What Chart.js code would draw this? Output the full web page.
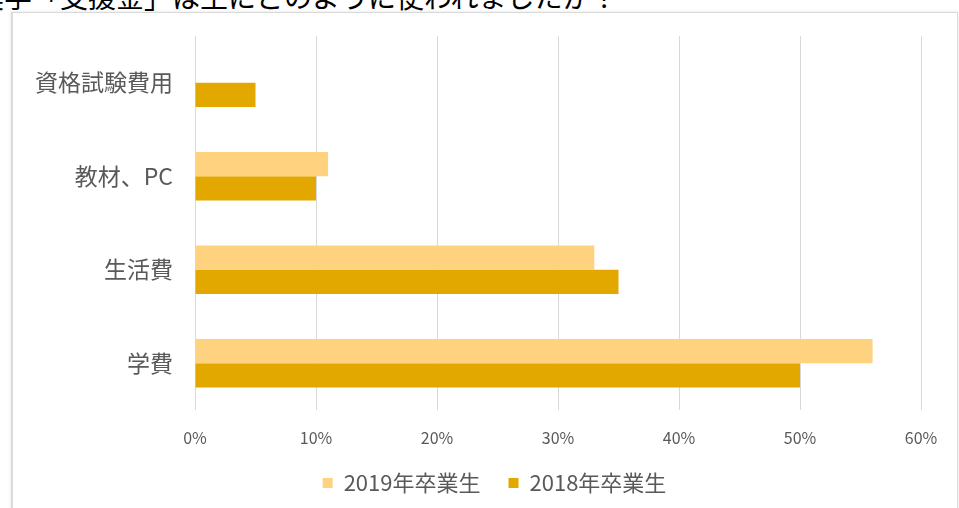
<!DOCTYPE html>
<html>
<head>
<meta charset="utf-8">
<script src="https://cdn.jsdelivr.net/npm/chart.js@4/dist/chart.umd.min.js"></script>
<style>
  html, body { margin: 0; padding: 0; background: #fff; }
  body { width: 959px; height: 508px; position: relative; overflow: hidden; font-family: "Noto Sans CJK JP", sans-serif; }
  #title { position: absolute; left: -24px; top: -18px; font-size: 28px; line-height: 28px; color: #000; white-space: nowrap; }
  #frame { position: absolute; left: 11px; top: 12px; width: 944px; height: 510px; border: 1px solid #d9d9d9; border-left: 2px solid #dcdcdc; box-shadow: 0 0 3px rgba(0,0,0,0.12); }
  #wrap { position: absolute; left: 0; top: 0; width: 959px; height: 508px; }
</style>
</head>
<body>
<div id="title">奨学「支援金」は主にどのように使われましたか？</div>
<div id="frame"></div>
<div id="wrap"><canvas id="chart"></canvas></div>
<script>
  const categories = ["資格試験費用", "教材、PC", "生活費", "学費"];
  const grad2019 = [0, 0.11, 0.33, 0.56];
  const grad2018 = [0.05, 0.10, 0.35, 0.50];
  const seriesNames = ["2019年卒業生", "2018年卒業生"];
  const xTicks = [0, 0.1, 0.2, 0.3, 0.4, 0.5, 0.6];

  const font = "'Noto Sans CJK JP', sans-serif";

  // nudge the legend to the right, it sits under the middle of the frame
  const legendShift = {
    id: 'legendShift',
    afterLayout(chart) {
      chart.legend.left += 34;
      chart.legend.right += 34;
    }
  };

  const ctx = document.getElementById("chart").getContext("2d");
  new Chart(ctx, {
    type: 'bar',
    data: {
      labels: categories,
      datasets: [
        { label: seriesNames[0], data: grad2019, backgroundColor: '#FFD280' },
        { label: seriesNames[1], data: grad2018, backgroundColor: '#E2A800' }
      ]
    },
    options: {
      indexAxis: 'y',
      responsive: true,
      maintainAspectRatio: false,
      animation: false,
      datasets: { bar: { categoryPercentage: 0.52, barPercentage: 1 } },
      layout: { padding: { top: 36, right: 38, bottom: 4, left: 0 } },
      scales: {
        x: {
          min: 0,
          max: 0.6,
          afterBuildTicks: s => { s.ticks = xTicks.map(v => ({ value: v })); },
          afterFit: s => { s.height = 34; },
          grid: { color: '#d9d9d9', drawTicks: false },
          border: { display: false },
          ticks: {
            padding: 18,
            color: '#595959',
            font: { family: font, size: 16 },
            callback: v => Math.round(v * 100) + '%'
          }
        },
        y: {
          afterFit: s => { s.width = 195; },
          grid: { display: false, drawTicks: false },
          border: { display: false },
          ticks: {
            padding: 22,
            color: '#595959',
            font: { family: font, size: 23 }
          }
        }
      },
      plugins: {
        legend: {
          position: 'bottom',
          labels: {
            boxWidth: 10,
            boxHeight: 10,
            padding: 28,
            color: '#595959',
            font: { family: font, size: 22 }
          }
        },
        tooltip: { enabled: false }
      }
    },
    plugins: [legendShift]
  });
</script>
</body>
</html>
